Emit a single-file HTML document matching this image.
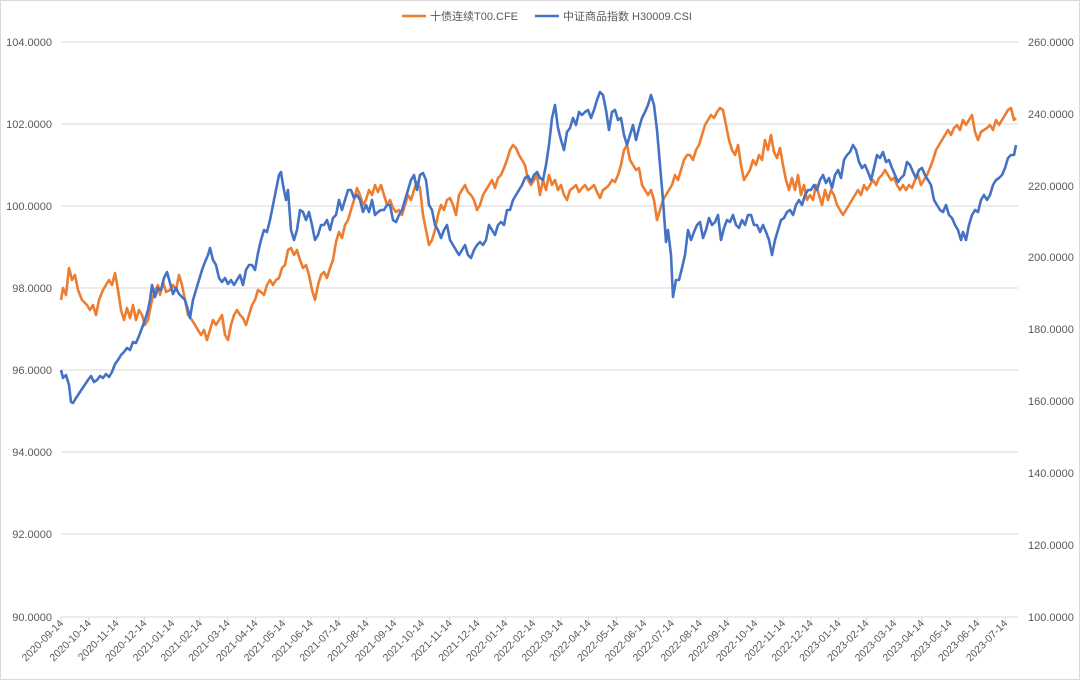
<!DOCTYPE html>
<html><head><meta charset="utf-8"><style>
body{margin:0;background:#fff;}
svg{display:block;font-family:"Liberation Sans","Noto Sans CJK SC",sans-serif;}
</style></head><body>
<svg width="1080" height="680" viewBox="0 0 1080 680" xmlns="http://www.w3.org/2000/svg">
<rect x="0.5" y="0.5" width="1079" height="679" fill="#fff" stroke="#d9d9d9"/>
<g stroke="#d9d9d9" stroke-width="1">
<line x1="61" y1="42" x2="1018" y2="42"/><line x1="61" y1="124" x2="1018" y2="124"/>
<line x1="61" y1="206" x2="1018" y2="206"/><line x1="61" y1="288" x2="1018" y2="288"/>
<line x1="61" y1="370" x2="1018" y2="370"/><line x1="61" y1="452" x2="1018" y2="452"/>
<line x1="61" y1="534" x2="1018" y2="534"/><line x1="61" y1="617" x2="1018" y2="617"/>
</g>
<g font-size="11" fill="#595959" text-anchor="end">
<text x="52" y="46">104.0000</text><text x="52" y="128">102.0000</text><text x="52" y="210">100.0000</text>
<text x="52" y="292">98.0000</text><text x="52" y="374">96.0000</text><text x="52" y="456">94.0000</text>
<text x="52" y="538">92.0000</text><text x="52" y="621">90.0000</text>
</g>
<g font-size="11" fill="#595959" text-anchor="start">
<text x="1028" y="46">260.0000</text><text x="1028" y="118">240.0000</text><text x="1028" y="190">220.0000</text>
<text x="1028" y="261">200.0000</text><text x="1028" y="333">180.0000</text><text x="1028" y="405">160.0000</text>
<text x="1028" y="477">140.0000</text><text x="1028" y="549">120.0000</text><text x="1028" y="621">100.0000</text>
</g>
<g id="ticks" stroke="#d9d9d9"></g>
<g id="xl" font-size="10.5" fill="#595959" text-anchor="end"></g>
<polyline fill="none" stroke="#ed7d31" stroke-width="2.6" stroke-linejoin="round" points="61,300 63,288 66,295 69,268 72,280 75,275 78,290 82,300 87,305 90,310 93,305 96,315 99,300 103,290 106,285 109,280 112,285 115,273 118,290 121,310 124,320 127,308 130,318 133,305 136,320 139,310 142,315 145,325 148,320 150,310 152,300 155,290 158,285 160,295 163,282 166,292 170,290 173,285 176,290 179,275 182,285 185,300 188,315 192,320 195,325 198,330 201,335 204,330 207,340 210,330 213,320 216,325 219,320 222,315 225,335 228,340 231,325 234,315 237,310 240,315 243,318 246,325 249,315 252,305 255,300 258,290 261,292 264,295 267,285 270,280 273,285 276,280 279,278 282,268 285,265 288,250 291,248 294,255 297,250 300,260 303,268 306,265 309,275 312,290 315,300 318,285 321,275 324,272 327,278 330,268 333,260 336,242 339,232 342,238 345,225 348,220 351,210 354,200 357,188 360,195 363,205 366,200 369,190 372,195 375,185 378,192 381,185 384,195 387,205 390,200 393,208 396,212 399,210 402,215 405,205 408,195 411,200 414,190 417,182 420,188 423,215 426,230 429,245 432,240 435,230 438,215 441,205 444,210 447,200 450,198 453,205 456,215 459,195 462,190 465,185 468,192 471,195 474,200 477,210 480,205 483,195 486,190 489,185 492,180 495,188 498,178 501,175 504,168 507,160 510,150 513,145 516,148 519,155 522,160 525,165 528,180 531,185 534,180 537,175 540,195 543,180 546,190 549,175 552,185 555,180 558,190 561,185 564,195 567,200 570,190 573,188 576,185 579,192 582,188 585,185 588,190 591,188 594,185 597,192 600,198 603,190 606,188 609,185 612,180 615,182 618,175 621,165 624,150 627,145 630,160 633,165 636,170 639,168 642,185 645,190 648,195 651,190 654,200 657,220 660,210 663,200 666,195 669,190 672,185 675,175 678,180 681,170 684,160 687,155 690,155 693,160 696,150 699,145 702,135 705,125 708,120 711,115 714,118 717,112 720,108 723,110 726,125 729,140 732,150 735,155 738,145 741,165 744,180 747,175 750,170 753,160 756,165 759,155 762,160 765,140 768,150 771,135 774,152 777,158 780,148 783,165 786,180 789,190 792,178 795,190 798,175 801,195 804,185 807,200 810,195 813,200 816,185 819,195 822,205 825,190 828,200 831,190 834,195 837,205 840,210 843,215 846,210 849,205 852,200 855,195 858,190 861,195 864,185 867,190 870,185 873,180 876,185 879,178 882,175 885,170 888,175 891,180 894,178 897,185 900,190 903,185 906,190 909,185 912,188 915,180 918,175 921,185 924,180 927,175 930,168 933,160 936,150 939,145 942,140 945,135 948,130 951,135 954,128 957,125 960,130 963,120 966,125 969,120 972,115 975,132 978,140 981,132 984,130 987,128 990,125 993,130 996,120 999,125 1002,120 1005,115 1008,110 1011,108 1014,120 1016,118"/>
<polyline fill="none" stroke="#4472c4" stroke-width="2.6" stroke-linejoin="round" points="61,370 63,378 66,375 69,385 71,402 73,403 76,398 80,392 84,386 88,380 91,376 94,382 97,380 100,376 103,378 106,374 109,377 112,372 115,364 118,360 121,355 124,352 127,348 130,350 133,342 136,343 139,336 142,328 145,320 148,310 150,300 152,285 155,297 158,288 161,290 164,278 167,272 170,283 173,294 176,288 179,294 182,297 185,300 188,310 190,318 193,300 196,290 199,280 202,270 205,262 208,255 210,248 213,260 216,265 219,278 222,282 225,278 228,284 231,280 234,285 237,280 240,275 243,285 246,270 249,265 252,265 255,270 258,253 261,240 264,230 267,232 270,220 273,205 276,190 279,175 281,172 283,185 286,200 288,190 291,230 294,240 297,230 300,210 303,212 306,220 309,212 312,225 315,240 318,235 321,225 324,225 327,220 330,230 333,218 336,215 339,200 342,210 345,200 348,190 351,190 354,198 357,195 360,200 363,212 366,205 369,212 372,200 375,215 378,212 381,210 384,210 387,205 390,205 393,220 396,222 399,215 402,210 405,200 408,190 411,180 414,175 417,190 420,175 423,173 426,180 429,205 432,210 435,225 438,230 441,238 444,230 447,225 450,240 453,245 456,250 459,255 462,250 465,245 468,255 471,258 474,250 477,245 480,242 483,245 486,240 489,225 492,230 495,235 498,225 501,222 504,225 507,210 510,210 513,200 516,195 519,190 522,185 525,178 528,176 531,182 534,175 537,172 540,178 543,180 546,165 549,145 552,118 555,105 558,128 561,140 564,150 567,132 570,128 573,118 576,125 579,112 582,115 585,112 588,110 591,118 594,110 597,100 600,92 603,95 606,110 609,130 612,112 615,110 618,120 621,118 624,135 627,145 630,135 633,125 636,140 639,128 642,118 645,112 648,105 651,95 654,105 657,130 660,165 663,200 666,242 668,230 671,255 673,297 676,280 679,280 682,268 685,255 688,230 691,240 694,232 697,225 700,222 703,238 706,230 709,218 712,225 715,222 718,215 721,240 724,228 727,220 730,222 733,215 736,225 739,228 742,220 745,225 748,215 751,215 754,225 757,225 760,232 763,225 766,232 769,240 772,255 775,240 778,230 781,220 784,218 787,212 790,210 793,215 796,205 799,200 802,205 805,195 808,190 811,190 814,185 817,190 820,180 823,175 826,183 829,178 832,188 835,175 838,170 841,178 844,160 847,155 850,152 853,145 856,150 859,162 862,168 865,165 868,172 871,180 874,168 877,155 880,158 883,152 886,162 889,160 892,168 895,175 898,182 901,178 904,175 907,162 910,165 913,172 916,178 919,170 922,168 925,175 928,180 931,185 934,200 937,205 940,210 943,212 946,205 949,215 952,218 955,225 958,230 961,240 963,232 966,240 969,225 972,215 975,210 978,212 981,200 984,195 987,200 990,195 993,185 996,180 999,178 1002,175 1005,168 1008,158 1011,155 1014,155 1016,145"/>
<line x1="402" y1="16" x2="426" y2="16" stroke="#ed7d31" stroke-width="2.6"/>
<text x="430" y="20" font-size="11" fill="#595959">十债连续T00.CFE</text>
<line x1="535" y1="16" x2="559" y2="16" stroke="#4472c4" stroke-width="2.6"/>
<text x="563" y="20" font-size="11" fill="#595959">中证商品指数 H30009.CSI</text>
</svg>
<script>
var labels=[];for(var y=2020,m=9;!(y==2023&&m==8);){labels.push(y+"-"+(m<10?"0":"")+m+"-14");m++;if(m>12){m=1;y++;}}
var t=document.getElementById("ticks"),xl=document.getElementById("xl"),ns="http://www.w3.org/2000/svg";
labels.forEach(function(s,i){var x=61+i*27.77;
var l=document.createElementNS(ns,"line");l.setAttribute("x1",x);l.setAttribute("x2",x);l.setAttribute("y1",617);l.setAttribute("y2",622);t.appendChild(l);
var tx=document.createElementNS(ns,"text");tx.setAttribute("transform","translate("+(x+3)+",624) rotate(-45)");tx.textContent=s;xl.appendChild(tx);});
</script>
</body></html>
